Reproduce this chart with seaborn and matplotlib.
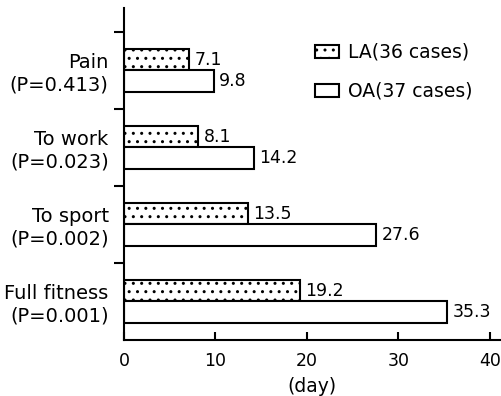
import matplotlib
matplotlib.use("Agg")
import matplotlib.pyplot as plt
import seaborn as sns
import pandas as pd

categories = ["Pain\n(P=0.413)", "To work\n(P=0.023)", "To sport\n(P=0.002)", "Full fitness\n(P=0.001)"]
la_values = [7.1, 8.1, 13.5, 19.2]
oa_values = [9.8, 14.2, 27.6, 35.3]
groups = ["LA(36 cases)", "OA(37 cases)"]
x_ticks = [0, 10, 20, 30, 40]

df = pd.DataFrame({
    "task": categories * 2,
    "days": la_values + oa_values,
    "group": [groups[0]] * 4 + [groups[1]] * 4,
})

sns.set_style("ticks")
plt.rcParams["font.family"] = ["DejaVu Sans"]
plt.rcParams["hatch.linewidth"] = 1.0
plt.rcParams["hatch.color"] = "black"
for k in ["text.color", "axes.labelcolor", "xtick.color", "ytick.color", "axes.edgecolor"]:
    plt.rcParams[k] = "black"

fig = plt.figure(figsize=(5.01, 3.96), dpi=100)
ax = fig.add_axes([124 / 501, 1 - 340 / 396, (500 - 124) / 501, (340 - 8) / 396])

sns.barplot(data=df, y="task", x="days", hue="group", orient="h",
            order=categories, hue_order=groups,
            palette={groups[0]: "white", groups[1]: "white"},
            width=0.56, edgecolor="black", linewidth=1.5,
            saturation=1, legend=False, ax=ax)

for patch in ax.containers[0]:
    patch.set_hatch("..")

for cont in ax.containers:
    ax.bar_label(cont, fmt="%.1f", padding=4, fontsize=12.5, color="black")

ax.set_xlim(0, 41.1)
ax.set_ylim(3.5, -0.81)
ax.set_xticks(x_ticks)
ax.set_xticklabels([str(t) for t in x_ticks], fontsize=12.5)
ax.tick_params(axis="x", direction="in", length=6, width=1.5, pad=9)
ax.set_yticks(range(len(categories)))
ax.set_yticklabels(categories, fontsize=14)
ax.set_yticks([-0.5, 0.5, 1.5, 2.5], minor=True)
ax.tick_params(axis="y", which="major", length=0, pad=11)
ax.tick_params(axis="y", which="minor", direction="out", length=7, width=1.5)
ax.set_ylabel("")
ax.set_xlabel("(day)", fontsize=13.5, labelpad=5)

sns.despine(ax=ax)
for s in ["left", "bottom"]:
    ax.spines[s].set_linewidth(1.5)
    ax.spines[s].set_color("black")

ax.legend(handles=ax.containers, labels=groups, loc="upper left",
          bbox_to_anchor=(315 / 501, 1 - 43 / 396), bbox_transform=fig.transFigure,
          frameon=False, fontsize=13.5, handlelength=1.3, handleheight=0.7,
          handletextpad=0.45, labelspacing=1.05, borderpad=0, borderaxespad=0)

fig.savefig("out.png", dpi=100)
